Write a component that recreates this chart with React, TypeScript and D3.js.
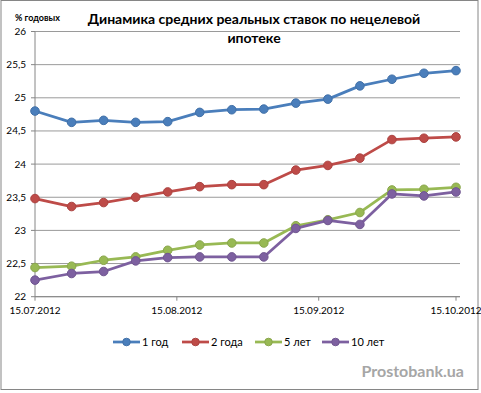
import React from 'react';
import * as d3 from 'd3';

const width = 481;
const height = 393;
const margin = {top: 31.5, right: 21, bottom: 96.3, left: 35};
const font = 'Lato, "Open Sans", sans-serif';

// weekly observations
const dates = ['2012-07-15', '2012-07-23', '2012-07-30', '2012-08-06', '2012-08-13', '2012-08-20', '2012-08-27',
  '2012-09-03', '2012-09-10', '2012-09-17', '2012-09-24', '2012-10-01', '2012-10-08', '2012-10-15'];
const year1 = [24.80, 24.63, 24.66, 24.63, 24.64, 24.78, 24.82, 24.83, 24.92, 24.98, 25.18, 25.28, 25.37, 25.41];
const year2 = [23.48, 23.36, 23.42, 23.50, 23.58, 23.66, 23.69, 23.69, 23.91, 23.98, 24.09, 24.37, 24.39, 24.41];
const year5 = [22.44, 22.46, 22.55, 22.60, 22.70, 22.78, 22.81, 22.81, 23.07, 23.16, 23.27, 23.61, 23.62, 23.65];
const year10 = [22.25, 22.35, 22.38, 22.54, 22.59, 22.60, 22.60, 22.60, 23.03, 23.15, 23.09, 23.55, 23.52, 23.58];

const seriesNames = ['1 год', '2 года', '5 лет', '10 лет'];
const seriesColors = ['#4a7ebb', '#be4b48', '#98b954', '#7d60a0'];
const yTicks = [22, 22.5, 23, 23.5, 24, 24.5, 25, 25.5, 26];
const xTicks = ['2012-07-15', '2012-08-15', '2012-09-15', '2012-10-15'];

const parse = d3.timeParse('%Y-%m-%d');
const fmtDate = d3.timeFormat('%d.%m.%Y');

export default function App() {
  const x = d3.scaleTime()
    .domain([parse('2012-07-15'), parse('2012-10-15')])
    .range([margin.left, 456]);
  const y = d3.scaleLinear().domain([22, 26]).range([height - margin.bottom, margin.top]);
  const plotRight = width - margin.right;

  const series = [year1, year2, year5, year10].map((vals, i) => ({
    name: seriesNames[i],
    color: seriesColors[i],
    points: vals.map((v, j) => ({date: parse(dates[j]), v})),
  }));

  const line = d3.line<any>().x(d => x(d.date)).y(d => y(d.v));

  const legendX = [113, 182, 255, 322];

  return (
    <svg width={width} height={height} style={{position: 'absolute', left: 0, top: 0, background: '#fff'}}>
      <rect x={1} y={0.5} width={477} height={389} fill="#fff" stroke="#868686" />

      {/* gridlines */}
      {yTicks.map(t => (
        <line key={t} x1={margin.left} x2={plotRight} y1={y(t)} y2={y(t)} stroke="#9a9a9a" strokeWidth={1} />
      ))}

      {/* axes */}
      <line x1={margin.left} x2={margin.left} y1={y(26)} y2={y(22)} stroke="#868686" />
      <line x1={margin.left} x2={plotRight} y1={y(22)} y2={y(22)} stroke="#868686" />
      {yTicks.map(t => (
        <g key={t}>
          <line x1={margin.left - 4} x2={margin.left} y1={y(t)} y2={y(t)} stroke="#868686" />
          <text x={26} y={y(t)} dy="0.35em" textAnchor="end" fontFamily={font} fontSize={10} fill="#000">
            {String(t).replace('.', ',')}
          </text>
        </g>
      ))}
      {xTicks.map(t => (
        <g key={t}>
          <line x1={x(parse(t))} x2={x(parse(t))} y1={y(22)} y2={y(22) + 4} stroke="#868686" />
          <text x={x(parse(t))} y={314} textAnchor="middle" fontFamily={font} fontSize={10} fill="#000">
            {fmtDate(parse(t))}
          </text>
        </g>
      ))}

      {/* series */}
      {series.map(s => (
        <g key={s.name}>
          <path d={line(s.points)} fill="none" stroke={s.color} strokeWidth={2.75} strokeLinejoin="round" />
          {s.points.map((p, j) => (
            <circle key={j} cx={x(p.date)} cy={y(p.v)} r={4.3} fill={s.color} stroke={d3.color(s.color).darker(0.3)} strokeWidth={1} />
          ))}
        </g>
      ))}

      {/* titles */}
      <text x={15} y={21} fontFamily={font} fontSize={9} fontWeight="bold" fill="#000">% годовых</text>
      <text x={254} y={24} textAnchor="middle" fontFamily={font} fontSize={14} fontWeight="bold" fill="#000">
        Динамика средних реальных ставок по нецелевой
      </text>
      <text x={254} y={43} textAnchor="middle" fontFamily={font} fontSize={14} fontWeight="bold" fill="#000">
        ипотеке
      </text>

      {/* legend */}
      {series.map((s, i) => (
        <g key={s.name} transform={`translate(${legendX[i]}, 342)`}>
          <line x1={0} x2={27} y1={0} y2={0} stroke={s.color} strokeWidth={2.75} />
          <circle cx={13.5} cy={0} r={3.8} fill={s.color} stroke={d3.color(s.color).darker(0.3)} />
          <text x={29} y={0} dy="0.35em" fontFamily={font} fontSize={11} fill="#000">{s.name}</text>
        </g>
      ))}

      <text x={464} y={377} textAnchor="end" fontFamily={font} fontSize={16} fontWeight="bold" fill="#a6a6a6">
        Prostobank.ua
      </text>
    </svg>
  );
}
